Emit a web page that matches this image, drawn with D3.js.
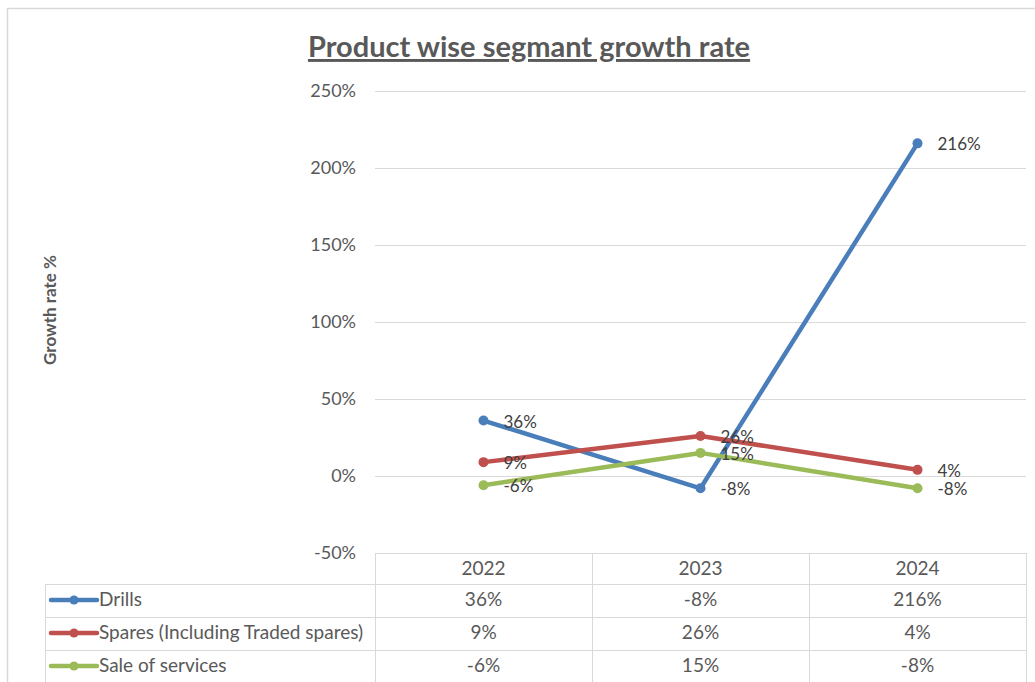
<!DOCTYPE html>
<html>
<head>
<meta charset="utf-8">
<script src="https://cdn.jsdelivr.net/npm/d3@7"></script>
<style>
  body { margin: 0; background: #fff; }
  text { font-family: Lato, "Open Sans", sans-serif; }
</style>
</head>
<body>
<div id="chart"></div>
<script>
const years = ["2022", "2023", "2024"];
const seriesNames = ["Drills", "Spares (Including Traded spares)", "Sale of services"];
const drills = [36, -8, 216];
const spares = [9, 26, 4];
const services = [-6, 15, -8];
const yTicks = [-50, 0, 50, 100, 150, 200, 250];

const colors = ["#4a7ebb", "#c0504d", "#9bbb59"];
const series = [drills, spares, services];

const width = 1035, height = 682;
const plot = { left: 375, right: 1026, top: 91, bottom: 553 };
const font = 'Lato, "Open Sans", sans-serif';

const svg = d3.select("#chart").append("svg")
    .attr("width", width)
    .attr("height", height);

// outer chart border
svg.append("rect")
    .attr("x", 7.5).attr("y", 8.5)
    .attr("width", 1040).attr("height", 700)
    .attr("fill", "none")
    .attr("stroke", "#d9d9d9")
    .attr("stroke-width", 1.5);

const x = d3.scaleBand().domain(years).range([plot.left, plot.right]);
const y = d3.scaleLinear().domain([-50, 250]).range([plot.bottom, plot.top]);

// title
svg.append("text")
    .attr("x", 529).attr("y", 57)
    .attr("text-anchor", "middle")
    .attr("fill", "#595959")
    .style("font-size", "29px")
    .style("font-weight", "bold")
    .style("text-decoration", "underline")
    .text("Product wise segmant growth rate");

// y axis title
svg.append("text")
    .attr("transform", "translate(56,310) rotate(-90)")
    .attr("text-anchor", "middle")
    .attr("fill", "#595959")
    .style("font-size", "17px")
    .style("font-weight", "bold")
    .text("Growth rate %");

// gridlines (no gridline at -50, table top is there)
svg.append("g").selectAll("line")
    .data(yTicks.filter(d => d > -50))
    .join("line")
    .attr("x1", plot.left).attr("x2", plot.right)
    .attr("y1", d => Math.round(y(d)) + 0.5)
    .attr("y2", d => Math.round(y(d)) + 0.5)
    .attr("stroke", "#d9d9d9");

// y axis labels
const yAxis = d3.axisLeft(y).tickValues(yTicks).tickFormat(d => d + "%").tickSize(0).tickPadding(0);
const yg = svg.append("g").attr("transform", `translate(${plot.left - 19},0)`).call(yAxis);
yg.select(".domain").remove();
yg.selectAll("text")
    .attr("fill", "#595959")
    .style("font-size", "18px")
    .style("font-family", font);

// lines
const line = d3.line()
    .x((d, i) => x(years[i]) + x.bandwidth() / 2)
    .y(d => y(d));

series.forEach((vals, s) => {
    svg.append("path")
        .datum(vals)
        .attr("d", line)
        .attr("fill", "none")
        .attr("stroke", colors[s])
        .attr("stroke-width", 4.5)
        .attr("stroke-linejoin", "round");

    svg.append("g").selectAll("circle")
        .data(vals)
        .join("circle")
        .attr("cx", (d, i) => x(years[i]) + x.bandwidth() / 2)
        .attr("cy", d => y(d))
        .attr("r", 5)
        .attr("fill", colors[s]);
});

// data labels
series.forEach((vals, s) => {
    svg.append("g").selectAll("text")
        .data(vals)
        .join("text")
        .attr("x", (d, i) => x(years[i]) + x.bandwidth() / 2 + 20)
        .attr("y", d => y(d) + 7)
        .attr("fill", "#404040")
        .style("font-size", "17px")
        .text(d => d + "%");
});

// data table
const rowTop = [553, 584, 617, 650];
const tableLeft = 45;
const grid = "#d9d9d9";
const tg = svg.append("g");

tg.append("line").attr("x1", plot.left).attr("x2", plot.right)
    .attr("y1", rowTop[0] + 0.5).attr("y2", rowTop[0] + 0.5).attr("stroke", grid);
rowTop.slice(1).forEach(t => {
    tg.append("line").attr("x1", tableLeft).attr("x2", plot.right)
        .attr("y1", t + 0.5).attr("y2", t + 0.5).attr("stroke", grid);
});
const colEdges = [plot.left].concat(years.map(c => x(c) + x.bandwidth()));
colEdges.forEach(cx => {
    tg.append("line").attr("x1", Math.round(cx) + 0.5).attr("x2", Math.round(cx) + 0.5)
        .attr("y1", rowTop[0]).attr("y2", height).attr("stroke", grid);
});
tg.append("line").attr("x1", tableLeft + 0.5).attr("x2", tableLeft + 0.5)
    .attr("y1", rowTop[1]).attr("y2", height).attr("stroke", grid);

tg.selectAll("text.year")
    .data(years)
    .join("text")
    .attr("class", "year")
    .attr("x", d => x(d) + x.bandwidth() / 2)
    .attr("y", rowTop[0] + 22)
    .attr("text-anchor", "middle")
    .attr("fill", "#595959")
    .style("font-size", "19px")
    .text(d => d);

series.forEach((vals, s) => {
    const cy = rowTop[s + 1] + 16;
    tg.append("line")
        .attr("x1", 51).attr("x2", 97)
        .attr("y1", cy).attr("y2", cy)
        .attr("stroke", colors[s]).attr("stroke-width", 4.5)
        .attr("stroke-linecap", "round");
    tg.append("circle").attr("cx", 74).attr("cy", cy).attr("r", 4.5).attr("fill", colors[s]);
    tg.append("text")
        .attr("x", 99).attr("y", cy + 6)
        .attr("fill", "#595959")
        .style("font-size", "19px")
        .text(seriesNames[s]);
    tg.selectAll(null)
        .data(vals)
        .join("text")
        .attr("x", (d, i) => x(years[i]) + x.bandwidth() / 2)
        .attr("y", cy + 6)
        .attr("text-anchor", "middle")
        .attr("fill", "#595959")
        .style("font-size", "19px")
        .text(d => d + "%");
});
</script>
</body>
</html>
